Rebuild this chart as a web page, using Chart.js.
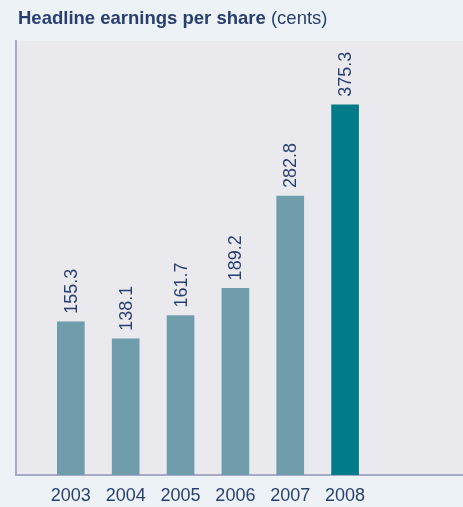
<!DOCTYPE html>
<html>
<head>
<meta charset="utf-8">
<script src="https://cdn.jsdelivr.net/npm/chart.js@4"></script>
<style>
  html, body { margin: 0; padding: 0; background: #edf2f7; }
  #wrap { position: relative; width: 463px; height: 507px; }
  #title {
    position: absolute; left: 18px; top: 9px;
    font-family: "Liberation Sans", Arial, sans-serif;
    font-size: 18.5px; line-height: 18px; color: #283f70; white-space: nowrap;
  }
  #title b { font-weight: bold; }
</style>
</head>
<body>
<div id="wrap">
  <canvas id="barChart" width="463" height="507"></canvas>
  <div id="title"><b>Headline earnings per share</b> (cents)</div>
</div>
<script>
const years = [2003, 2004, 2005, 2006, 2007, 2008];
const eps = [155.3, 138.1, 161.7, 189.2, 282.8, 375.3];
const barColors = ['#6f9dab', '#6f9dab', '#6f9dab', '#6f9dab', '#6f9dab', '#007b87'];

const textColor = '#283f70';
const axisColor = '#a8a8c9';

// backgrounds for page and plot area
const bgPlugin = {
  id: 'bg',
  beforeDraw(chart) {
    const { ctx, chartArea: a } = chart;
    ctx.save();
    ctx.fillStyle = '#edf2f7';
    ctx.fillRect(0, 0, chart.width, chart.height);
    ctx.fillStyle = '#eae9ee';
    ctx.fillRect(a.left, a.top, a.right - a.left, a.bottom - a.top);
    ctx.restore();
  }
};

// rotated value labels above each bar
const valueLabels = {
  id: 'valueLabels',
  afterDatasetsDraw(chart) {
    const { ctx } = chart;
    const meta = chart.getDatasetMeta(0);
    ctx.save();
    ctx.fillStyle = textColor;
    ctx.font = '18px "Liberation Sans", Arial, sans-serif';
    ctx.textAlign = 'left';
    ctx.textBaseline = 'middle';
    meta.data.forEach((bar, i) => {
      ctx.save();
      ctx.translate(bar.x + 1, bar.y - 8);
      ctx.rotate(-Math.PI / 2);
      ctx.fillText(eps[i].toFixed(1), 0, 0);
      ctx.restore();
    });
    ctx.restore();
  }
};

const ctx = document.getElementById('barChart').getContext('2d');
const chart = new Chart(ctx, {
  type: 'bar',
  data: {
    datasets: [{
      data: years.map((y, i) => ({ x: y, y: eps[i] })),
      backgroundColor: barColors,
      barThickness: 27,
      borderWidth: 0
    }]
  },
  options: {
    responsive: false,
    animation: false,
    layout: { padding: { top: 41, left: 16, right: 0, bottom: 0 } },
    plugins: { legend: { display: false }, tooltip: { enabled: false } },
    scales: {
      x: {
        type: 'linear',
        offset: false,
        min: 2002,
        max: 2010.15,
        grid: { display: false, drawTicks: false },
        border: { display: true, color: axisColor, width: 2 },
        afterBuildTicks(scale) { scale.ticks = years.map(v => ({ value: v })); },
        afterFit(scale) { scale.height = 32; },
        ticks: {
          autoSkip: false,
          maxRotation: 0,
          padding: 10,
          color: textColor,
          font: { family: '"Liberation Sans", Arial, sans-serif', size: 18 },
          callback: v => String(v)
        }
      },
      y: {
        min: 0,
        max: 440,
        grid: { display: false, drawTicks: false },
        border: { display: true, color: axisColor, width: 2 },
        ticks: { display: false },
        afterFit(scale) { scale.width = 0; }
      }
    }
  },
  plugins: [bgPlugin, valueLabels]
});
</script>
</body>
</html>
